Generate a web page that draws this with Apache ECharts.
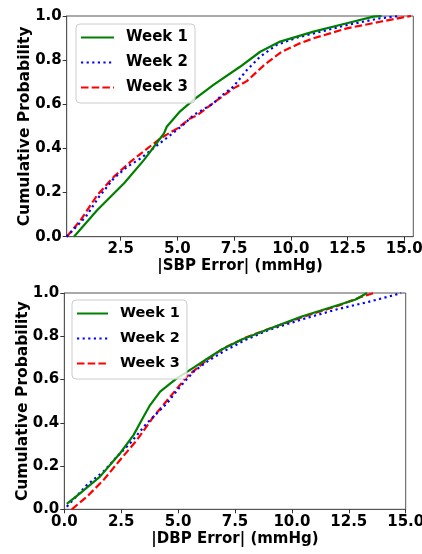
<!DOCTYPE html>
<html><head><meta charset="utf-8">
<script src="https://cdn.jsdelivr.net/npm/echarts@6/dist/echarts.min.js"></script>
<style>html,body{margin:0;padding:0;background:#fff}#c{width:422px;height:554px}</style>
</head><body><div id="c"></div>
<script>
const seriesNames = ['Week 1', 'Week 2', 'Week 3'];
const xTicks = [2.5, 5, 7.5, 10, 12.5, 15];
const yTicks = [0, 0.2, 0.4, 0.6, 0.8, 1.0];
const sbpWeek1 = [[0.44,0],[1.47,0.121],[2.65,0.242],[3.53,0.348],[4.19,0.438],[4.41,0.468],[4.53,0.498],[5.12,0.568],[5.71,0.62],[6.59,0.688],[7.76,0.77],[8.65,0.838],[9.53,0.884],[11.0,0.929],[12.47,0.967],[13.64,0.997],[14.0,1.0]];
const sbpWeek2 = [[0.12,0],[0.96,0.09],[1.54,0.18],[2.2,0.265],[2.79,0.317],[3.38,0.355],[4.12,0.415],[4.7,0.461],[5.29,0.51],[5.71,0.551],[6.59,0.604],[6.88,0.634],[7.47,0.68],[8.06,0.755],[8.65,0.816],[9.38,0.869],[10.3,0.903],[11.0,0.921],[12.47,0.959],[13.94,0.99],[14.8,1.0]];
const sbpWeek3 = [[0.12,0],[0.74,0.076],[1.47,0.189],[2.2,0.272],[2.94,0.34],[3.68,0.40],[4.26,0.446],[5.0,0.491],[5.56,0.536],[5.88,0.551],[6.6,0.607],[7.47,0.672],[8.06,0.705],[8.85,0.78],[9.6,0.838],[10.4,0.876],[11.0,0.899],[12.47,0.944],[13.94,0.974],[15.0,0.995],[15.3,1.0]];
const dbpWeek1 = [[0.11,0.025],[0.69,0.074],[1.57,0.151],[2.45,0.259],[3.04,0.343],[3.48,0.428],[3.77,0.482],[4.21,0.544],[4.94,0.605],[5.68,0.655],[6.26,0.695],[6.85,0.735],[7.8,0.785],[8.9,0.83],[10.4,0.89],[11.9,0.94],[12.8,0.97],[13.3,1.0]];
const dbpWeek2 = [[0.11,0.012],[0.99,0.112],[1.72,0.174],[2.31,0.243],[2.89,0.305],[3.63,0.398],[4.51,0.49],[5.09,0.567],[5.68,0.636],[6.26,0.682],[7.0,0.73],[8.0,0.785],[9.0,0.83],[10.5,0.88],[12.0,0.925],[13.4,0.96],[14.3,0.985],[14.8,1.0]];
const dbpWeek3 = [[0.33,0],[0.99,0.058],[1.72,0.135],[2.45,0.228],[3.19,0.32],[3.92,0.428],[4.65,0.52],[5.38,0.613],[6.26,0.69],[7.0,0.745],[8.0,0.795],[9.0,0.835],[10.5,0.89],[12.0,0.94],[13.0,0.98],[13.6,1.0]];

const FONT = 'DejaVu Sans';
const colors = ['#008000', '#0000ff', '#ff0000'];
const dashes = ['solid', [2.2, 3.4], [7.5, 3.2]];
const fmt = v => v.toFixed(1);

function xAxis(gi, name, min, max) {
  const vals = xTicks.concat(min === 0 ? [0] : []);
  return {
    type: 'value', gridIndex: gi, min: min, max: max,
    name: name, nameLocation: 'middle', nameGap: 22, nameMoveOverlap: false,
    nameTextStyle: {fontFamily: FONT, fontWeight: 'bold', fontSize: 15, color: '#000'},
    axisLine: {show: true, lineStyle: {color: '#555', width: 1}},
    axisTick: {show: true, length: 4, inside: false, customValues: vals, lineStyle: {color: '#333'}},
    axisLabel: {customValues: vals, formatter: fmt, margin: 5, fontFamily: FONT, fontWeight: 'bold', fontSize: 15, color: '#000'},
    splitLine: {show: false}
  };
}
function yAxis(gi, gap) {
  return {
    type: 'value', gridIndex: gi, min: 0, max: 1, interval: 0.2,
    name: 'Cumulative Probability', nameLocation: 'middle', nameGap: gap, nameMoveOverlap: false,
    nameTextStyle: {fontFamily: FONT, fontWeight: 'bold', fontSize: 15.5, color: '#000'},
    axisLine: {show: true, lineStyle: {color: '#555', width: 1}},
    axisTick: {show: true, length: 4, lineStyle: {color: '#333'}},
    axisLabel: {formatter: fmt, margin: 5, fontFamily: FONT, fontWeight: 'bold', fontSize: 15, color: '#000'},
    splitLine: {show: false}
  };
}
function legend(left, top, fs, iw) {
  return {
    data: seriesNames, orient: 'vertical', left: left, top: top,
    itemWidth: iw, itemHeight: 14, itemGap: 10,
    padding: [6, 7, 8, 4],
    itemStyle: {color: 'rgba(0,0,0,0)', borderWidth: 0, opacity: 0},
    backgroundColor: 'rgba(255,255,255,0.8)', borderColor: '#ccc', borderWidth: 1, borderRadius: 4,
    textStyle: {fontFamily: FONT, fontWeight: 'bold', fontSize: fs, color: '#000', padding: [0, 0, 0, 7]}
  };
}
const sbpData = [sbpWeek1, sbpWeek2, sbpWeek3];
const dbpData = [dbpWeek1, dbpWeek2, dbpWeek3];
const series = [];
[sbpData, dbpData].forEach((set, gi) => {
  set.forEach((d, i) => {
    series.push({
      name: seriesNames[i], type: 'line', xAxisIndex: gi, yAxisIndex: gi,
      data: d, symbol: 'none', smooth: false, z: 3 - i,
      lineStyle: {color: colors[i], width: 2.2, type: dashes[i], cap: 'butt'},
      itemStyle: {color: colors[i]}
    });
  });
});
const chart = echarts.init(document.getElementById('c'), null, {renderer: 'canvas'});
chart.setOption({
  animation: false,
  backgroundColor: '#fff',
  grid: [
    {left: 66.7, top: 16, width: 346.6, height: 220.7, show: true, borderColor: '#555', borderWidth: 1, containLabel: false, outerBoundsMode: 'none'},
    {left: 64.3, top: 293, width: 341.4, height: 216.3, show: true, borderColor: '#555', borderWidth: 1, containLabel: false, outerBoundsMode: 'none'}
  ],
  xAxis: [xAxis(0, '|SBP Error| (mmHg)', 0.12, 15.4), xAxis(1, '|DBP Error| (mmHg)', 0, 15)],
  yAxis: [yAxis(0, 34), yAxis(1, 33)],
  legend: [legend(76, 24, 15, 33), legend(72, 300, 14.5, 31)],
  series: series
});
</script></body></html>
